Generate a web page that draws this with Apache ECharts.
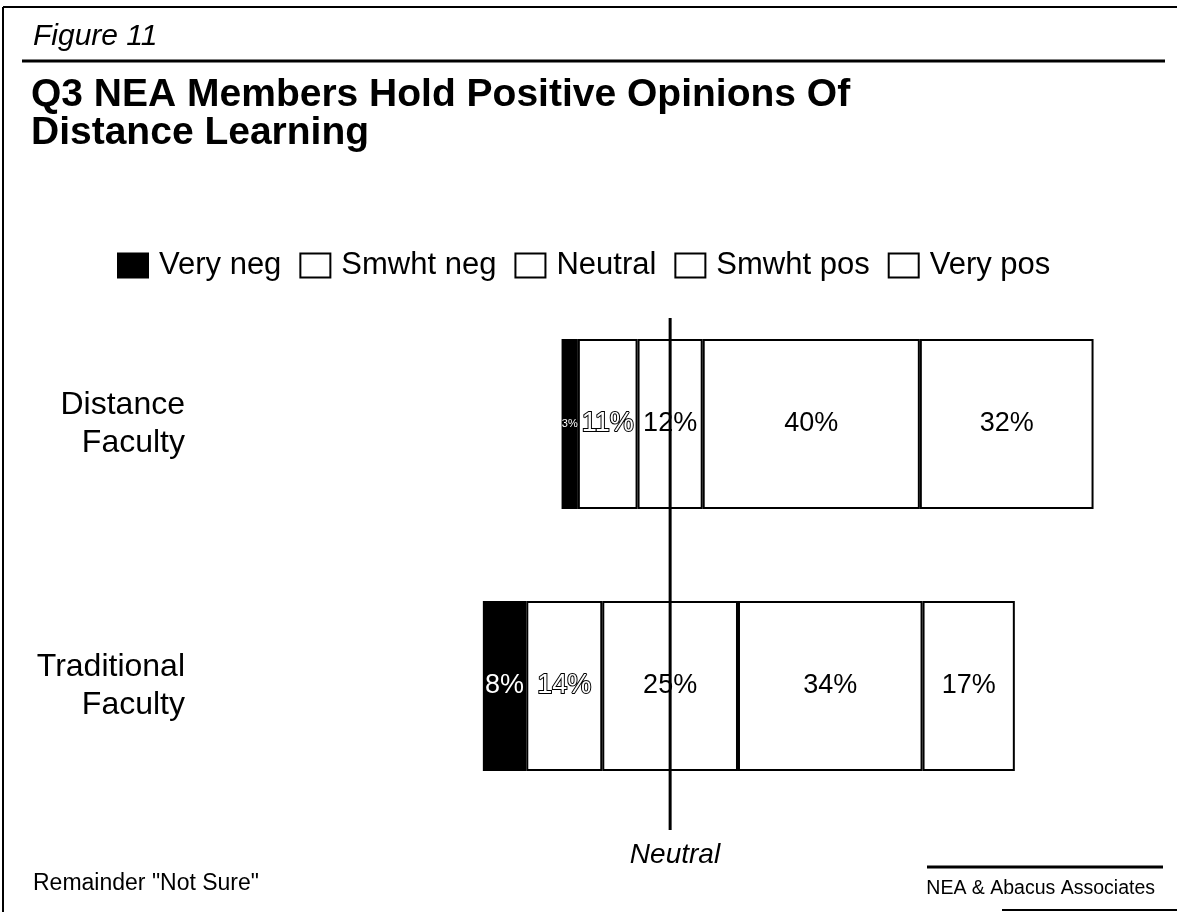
<!DOCTYPE html>
<html>
<head>
<meta charset="utf-8">
<script src="https://cdn.jsdelivr.net/npm/echarts@6/dist/echarts.min.js"></script>
<style>html,body{margin:0;padding:0;background:#fff;}#chart{width:1177px;height:912px;}</style>
</head>
<body>
<div id="chart"></div>
<script>
// ---- data ----
const categories = ['Distance\nFaculty', 'Traditional\nFaculty'];
const seriesNames = ['Very neg', 'Smwht neg', 'Neutral', 'Smwht pos', 'Very pos'];
const veryNeg = [3, 8];
const smwhtNeg = [11, 14];
const neutralVals = [12, 25];
const smwhtPos = [40, 34];
const veryPos = [32, 17];
const NEUTRAL_AT = 40;   // axis value where the neutral midpoint sits
const AXIS_MAX = 120;

const FONT = "'Liberation Sans', Arial, sans-serif";
const values = [veryNeg, smwhtNeg, neutralVals, smwhtPos, veryPos];
const baseVals = categories.map((c, i) => NEUTRAL_AT - (veryNeg[i] + smwhtNeg[i] + neutralVals[i] / 2));

const GRID_LEFT = 453, GRID_RIGHT = 72.6;

const labelStyles = [
  { color: '#fff' },
  { color: '#fff', textBorderColor: '#000', textBorderWidth: 2 },
  { color: '#000' },
  { color: '#000' },
  { color: '#000' }
];
const fills = ['#000', '#fff', '#fff', '#fff', '#fff'];

const chart = echarts.init(document.getElementById('chart'), null, { renderer: 'canvas' });

const series = [{
  name: 'base', type: 'bar', stack: 'total', silent: true,
  xAxisIndex: 0, yAxisIndex: 0,
  barWidth: 170,
  itemStyle: { color: 'rgba(0,0,0,0)', borderWidth: 0 },
  data: baseVals
}];
seriesNames.forEach((n, k) => {
  series.push({
    name: n, type: 'bar', stack: 'total',
    xAxisIndex: 0, yAxisIndex: 0,
    barWidth: 170,
    itemStyle: { color: fills[k], borderColor: '#000', borderWidth: 2 },
    label: Object.assign({
      show: true, position: 'inside', fontFamily: FONT, fontSize: 27,
      formatter: p => p.value + '%'
    }, labelStyles[k]),
    data: values[k].map(v => ({ value: v, label: v < 5 ? { fontSize: 11 } : {} }))
  });
});
series.push({
  name: 'neutralLine', type: 'line', xAxisIndex: 1, yAxisIndex: 1,
  symbol: 'none', silent: true, z: 10,
  lineStyle: { color: '#000', width: 3 },
  data: [[NEUTRAL_AT, 0], [NEUTRAL_AT, 1]]
});

const option = {
  backgroundColor: '#fff',
  animation: false,
  title: [
    { text: 'Figure 11', left: 28, top: 17,
      textStyle: { fontFamily: FONT, fontSize: 30, fontStyle: 'italic', fontWeight: 'normal', color: '#000' } },
    { text: 'Q3 NEA Members Hold Positive Opinions Of\nDistance Learning', left: 26, top: 71,
      textStyle: { fontFamily: FONT, fontSize: 39, fontWeight: 'bold', lineHeight: 38, color: '#000' } },
    { text: 'Neutral', left: 670, top: 836, textAlign: 'center',
      textStyle: { fontFamily: FONT, fontSize: 28, fontStyle: 'italic', fontWeight: 'normal', color: '#000' } },
    { text: 'Remainder "Not Sure"', left: 28, top: 867,
      textStyle: { fontFamily: FONT, fontSize: 23, fontWeight: 'normal', color: '#000' } },
    { text: 'NEA & Abacus Associates', right: 17, top: 874,
      textStyle: { fontFamily: FONT, fontSize: 19.5, fontWeight: 'normal', color: '#000' } }
  ],
  legend: {
    data: seriesNames,
    left: 112, top: 245,
    icon: 'rect',
    itemWidth: 30, itemHeight: 24, itemGap: 18,
    itemStyle: { borderColor: '#000', borderWidth: 2 },
    textStyle: { fontFamily: FONT, fontSize: 31, color: '#000', padding: [0, 0, 0, 6] }
  },
  grid: [
    { left: GRID_LEFT, right: GRID_RIGHT, top: 293, height: 524, containLabel: false },
    { left: GRID_LEFT, right: GRID_RIGHT, top: 318, height: 512, containLabel: false }
  ],
  xAxis: [
    { type: 'value', gridIndex: 0, min: 0, max: AXIS_MAX, show: false },
    { type: 'value', gridIndex: 1, min: 0, max: AXIS_MAX, show: false }
  ],
  yAxis: [
    { type: 'category', gridIndex: 0, data: categories, inverse: true,
      axisLine: { show: false }, axisTick: { show: false }, splitLine: { show: false },
      axisLabel: { margin: 268, fontFamily: FONT, fontSize: 32, lineHeight: 38, color: '#000', align: 'right' } },
    { type: 'value', gridIndex: 1, min: 0, max: 1, show: false }
  ],
  graphic: [
    { type: 'line', shape: { x1: 3, y1: 7, x2: 1177, y2: 7 }, style: { stroke: '#000', lineWidth: 2 } },
    { type: 'line', shape: { x1: 3, y1: 7, x2: 3, y2: 912 }, style: { stroke: '#000', lineWidth: 2 } },
    { type: 'line', shape: { x1: 22, y1: 61, x2: 1165, y2: 61 }, style: { stroke: '#000', lineWidth: 3 } },
    { type: 'line', shape: { x1: 927, y1: 867, x2: 1163, y2: 867 }, style: { stroke: '#000', lineWidth: 3 } },
    { type: 'line', shape: { x1: 1002, y1: 910, x2: 1177, y2: 910 }, style: { stroke: '#000', lineWidth: 2 } }
  ],
  series: series
};
chart.setOption(option);
</script>
</body>
</html>
